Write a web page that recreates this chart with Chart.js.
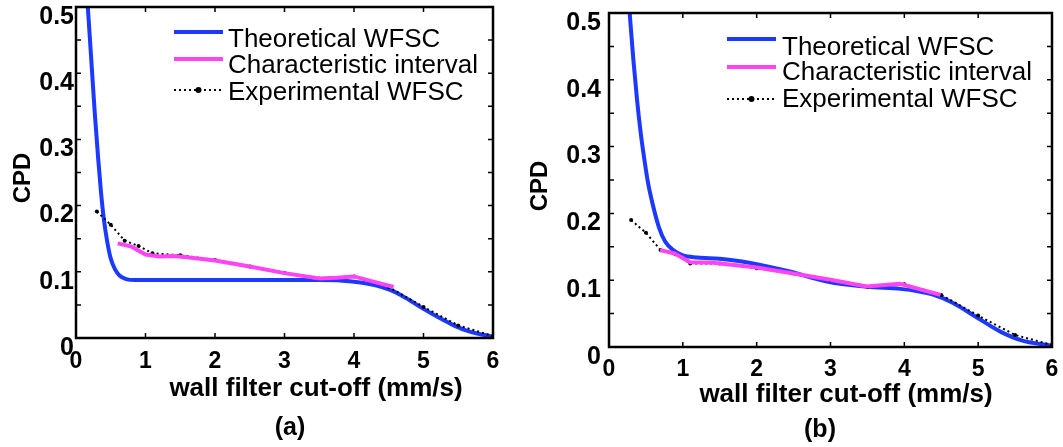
<!DOCTYPE html>
<html>
<head>
    <meta charset="utf-8" />
    <title>CPD vs wall filter cut-off</title>
    <script src="https://cdn.jsdelivr.net/npm/chart.js"></script>
    <style>
        body {
            margin: 0;
            background-color: #ffffff;
        }
        .panel {
            position: absolute;
            top: 0;
            height: 447px;
        }
        #panelA { left: 0; width: 520px; }
        #panelB { left: 520px; width: 543px; }
    </style>
</head>
<body>
    <div id="panelA" class="panel"><canvas id="chartA"></canvas></div>
    <div id="panelB" class="panel"><canvas id="chartB"></canvas></div>
    <script>
        // ---- data ----
        const xTicks = [0, 1, 2, 3, 4, 5, 6];
        const yTicks = [0, 0.1, 0.2, 0.3, 0.4, 0.5];
        const seriesNames = ['Theoretical WFSC', 'Characteristic interval', 'Experimental WFSC'];

        // panel (a)
        const theoXA = [0.17, 0.22, 0.27, 0.32, 0.36, 0.40, 0.45, 0.50, 0.56, 0.63, 0.72, 0.85, 1.5, 2.5, 3.5, 3.8, 4.0, 4.2, 4.4, 4.6, 4.8, 5.0, 5.2, 5.4, 5.6, 5.8, 6.0];
        const theoYA = [0.50, 0.42, 0.34, 0.27, 0.22, 0.18, 0.145, 0.12, 0.104, 0.094, 0.089, 0.0875, 0.0875, 0.0875, 0.0875, 0.087, 0.085, 0.082, 0.077, 0.069, 0.057, 0.044, 0.032, 0.021, 0.012, 0.006, 0.002];
        const charXA = [0.6, 0.8, 1.0, 1.2, 1.4, 1.6, 2.0, 2.5, 3.0, 3.5, 3.75, 4.0, 4.25, 4.57];
        const charYA = [0.143, 0.138, 0.126, 0.123, 0.124, 0.122, 0.117, 0.108, 0.098, 0.090, 0.091, 0.093, 0.086, 0.077];
        const expXA = [0.3, 0.5, 0.7, 0.9, 1.1, 1.5, 2.0, 2.5, 3.0, 3.5, 4.0, 4.5, 5.0, 5.5, 6.0];
        const expYA = [0.191, 0.171, 0.147, 0.139, 0.128, 0.125, 0.118, 0.108, 0.098, 0.090, 0.093, 0.077, 0.047, 0.019, 0.003];

        // panel (b)
        const theoXB = [0.28, 0.33, 0.38, 0.43, 0.48, 0.53, 0.60, 0.68, 0.76, 0.87, 1.0, 1.2, 1.5, 1.8, 2.05, 2.45, 2.95, 3.5, 3.95, 4.2, 4.4, 4.66, 5.0, 5.3, 5.6, 6.0];
        const theoYB = [0.50, 0.43, 0.37, 0.32, 0.28, 0.245, 0.21, 0.178, 0.158, 0.145, 0.137, 0.134, 0.132, 0.128, 0.123, 0.113, 0.098, 0.090, 0.087, 0.083, 0.078, 0.066, 0.043, 0.023, 0.0095, 0.002];
        const charXB = [0.69, 0.89, 1.10, 1.41, 2.0, 2.5, 3.0, 3.49, 3.94, 4.49];
        const charYB = [0.145, 0.140, 0.127, 0.126, 0.119, 0.110, 0.1006, 0.0905, 0.0946, 0.078];
        const expXB = [0.3, 0.5, 0.7, 0.9, 1.1, 1.5, 2.0, 2.5, 3.0, 3.5, 4.0, 4.5, 5.0, 5.5, 6.0];
        const expYB = [0.190, 0.171, 0.145, 0.139, 0.125, 0.125, 0.118, 0.110, 0.100, 0.090, 0.094, 0.078, 0.047, 0.018, 0.003];

        const fontFam = '"Liberation Sans", Arial, Helvetica, sans-serif';
        const blue = 'rgb(28, 58, 255)';
        const magenta = 'rgb(255, 68, 245)';

        function pts(xs, ys) {
            return xs.map((x, i) => ({ x: x, y: ys[i] }));
        }

        // box + inward ticks, axis titles, panel letter and legend (matlab look)
        const decorPlugin = {
            id: 'decor',
            afterDraw(chart) {
                const o = chart.options.plugins.decor;
                const { ctx, chartArea: a, scales } = chart;
                ctx.save();
                ctx.strokeStyle = '#000';
                ctx.lineWidth = 1.5;
                xTicks.forEach(v => {
                    const px = scales.x.getPixelForValue(v);
                    ctx.beginPath();
                    ctx.moveTo(px, a.bottom); ctx.lineTo(px, a.bottom - 5);
                    ctx.moveTo(px, a.top); ctx.lineTo(px, a.top + 5);
                    ctx.stroke();
                });
                for (let k = 0; k <= 10; k++) {
                    const py = scales.y.getPixelForValue(k * 0.05);
                    ctx.beginPath();
                    ctx.moveTo(a.left, py); ctx.lineTo(a.left + 5, py);
                    ctx.moveTo(a.right, py); ctx.lineTo(a.right - 5, py);
                    ctx.stroke();
                }
                ctx.lineWidth = 2.5;
                ctx.strokeRect(a.left, a.top, a.right - a.left, a.bottom - a.top);

                ctx.fillStyle = '#000';
                ctx.textAlign = 'center';
                ctx.textBaseline = 'middle';
                ctx.font = 'bold 26px ' + fontFam;
                ctx.fillText('wall filter cut-off (mm/s)', o.xTitle[0], o.xTitle[1]);
                ctx.font = 'bold 25px ' + fontFam;
                ctx.fillText(o.letter, o.letterPos[0], o.letterPos[1]);
                ctx.save();
                ctx.translate(o.yTitle[0], o.yTitle[1]);
                ctx.rotate(-Math.PI / 2);
                ctx.font = 'bold 24px ' + fontFam;
                ctx.fillText('CPD', 0, 0);
                ctx.restore();

                // legend
                const lg = o.legend;
                const ds = chart.data.datasets;
                ctx.textAlign = 'left';
                ctx.textBaseline = 'alphabetic';
                ctx.font = '26px ' + fontFam;
                const rows = [2, 0, 1]; // theoretical, characteristic, experimental
                rows.forEach((di, r) => {
                    const d = ds[di];
                    ctx.strokeStyle = d.borderColor;
                    ctx.lineWidth = d.borderWidth;
                    ctx.setLineDash(d.borderDash || []);
                    ctx.beginPath();
                    ctx.moveTo(lg.x1, lg.lineY[r]);
                    ctx.lineTo(lg.x2, lg.lineY[r]);
                    ctx.stroke();
                    ctx.setLineDash([]);
                    if (d.pointRadius) {
                        ctx.fillStyle = d.pointBackgroundColor;
                        ctx.beginPath();
                        ctx.arc((lg.x1 + lg.x2) / 2, lg.lineY[r], 3, 0, Math.PI * 2);
                        ctx.fill();
                    }
                    ctx.fillStyle = '#000';
                    ctx.fillText(seriesNames[r], lg.textX, lg.baseY[r]);
                });
                ctx.restore();
            }
        };

        function makeChart(id, theo, charc, exp, lay) {
            const ctx = document.getElementById(id).getContext('2d');
            return new Chart(ctx, {
                type: 'line',
                data: {
                    datasets: [
                        {
                            label: seriesNames[1],
                            data: charc,
                            borderColor: magenta,
                            borderWidth: 4,
                            pointRadius: 0,
                            tension: 0
                        },
                        {
                            label: seriesNames[2],
                            data: exp,
                            borderColor: '#000',
                            borderWidth: 2,
                            borderDash: [2, 3],
                            pointRadius: 2,
                            pointBackgroundColor: '#000',
                            pointBorderWidth: 0,
                            tension: 0
                        },
                        {
                            label: seriesNames[0],
                            data: theo,
                            borderColor: blue,
                            borderWidth: 4,
                            pointRadius: 0,
                            cubicInterpolationMode: 'monotone'
                        }
                    ]
                },
                options: {
                    responsive: true,
                    maintainAspectRatio: false,
                    animation: false,
                    layout: {
                        padding: { left: 0, right: lay.padRight, top: lay.padTop, bottom: 0 }
                    },
                    plugins: {
                        legend: { display: false },
                        tooltip: { enabled: false },
                        decor: lay.decor
                    },
                    scales: {
                        x: {
                            type: 'linear',
                            min: 0,
                            max: 6,
                            afterBuildTicks: s => { s.ticks = xTicks.map(v => ({ value: v })); },
                            grid: { display: false, drawTicks: false },
                            border: { display: false },
                            ticks: {
                                color: '#000',
                                padding: lay.xPad,
                                font: { family: fontFam, size: 23, weight: 'bold' }
                            },
                            afterFit: s => { s.height = lay.xHeight; s.paddingLeft = 0; s.paddingRight = 0; }
                        },
                        y: {
                            type: 'linear',
                            min: 0,
                            max: 0.5,
                            afterBuildTicks: s => { s.ticks = yTicks.map(v => ({ value: v })); },
                            grid: { display: false, drawTicks: false },
                            border: { display: false },
                            ticks: {
                                color: '#000',
                                padding: lay.yPad,
                                labelOffset: 10,
                                font: { family: fontFam, size: 25, weight: 'bold' },
                                callback: v => String(Math.round(v * 10) / 10)
                            },
                            afterFit: s => { s.width = lay.yWidth; s.paddingTop = 0; s.paddingBottom = 0; }
                        }
                    }
                },
                plugins: [decorPlugin]
            });
        }

        makeChart('chartA', pts(theoXA, theoYA), pts(charXA, charYA), pts(expXA, expYA), {
            padRight: 27, padTop: 7, xHeight: 109, yWidth: 76, xPad: 10, yPad: 2,
            decor: {
                xTitle: [316, 389], letter: '(a)', letterPos: [290, 428], yTitle: [23, 178],
                legend: { x1: 174, x2: 223, lineY: [32, 59, 90], textX: 228, baseY: [47, 73, 100] }
            }
        });

        makeChart('chartB', pts(theoXB, theoYB), pts(charXB, charYB), pts(expXB, expYB), {
            padRight: 11, padTop: 13, xHeight: 100, yWidth: 89, xPad: 9, yPad: 8,
            decor: {
                xTitle: [326, 395], letter: '(b)', letterPos: [300, 430], yTitle: [20, 186],
                legend: { x1: 207, x2: 256, lineY: [39, 67, 99], textX: 262, baseY: [55, 80, 107] }
            }
        });
    </script>
</body>
</html>
